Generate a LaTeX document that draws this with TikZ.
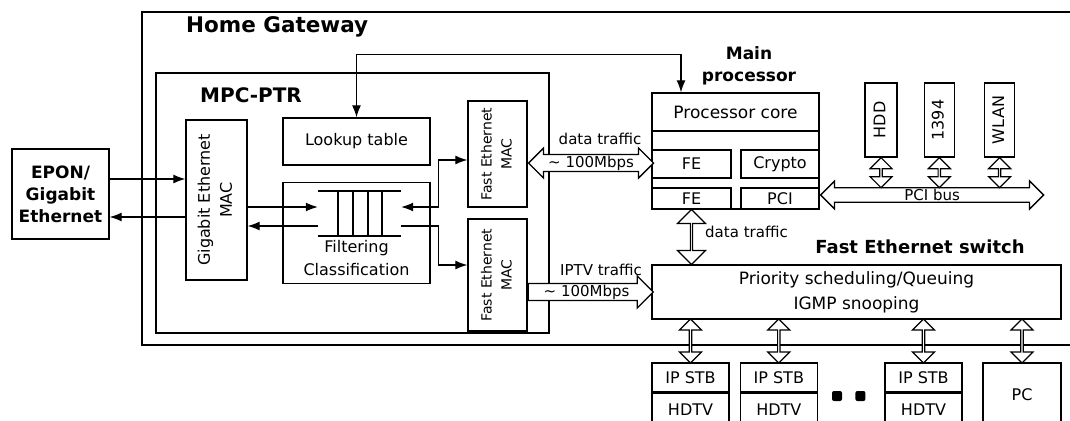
\documentclass[tikz,border=0pt]{standalone}
\usepackage{fontspec}
\setmainfont{DejaVu Sans}
\usetikzlibrary{positioning,shapes.arrows,arrows.meta,calc}
\newcommand{\vlabel}[1]{\rotatebox{90}{\begin{tabular}{@{}c@{}}#1\end{tabular}}}

\begin{document}
\begin{tikzpicture}
	[x=1pt,y=-1pt,
	box/.style={rectangle,draw,line width=1.3pt,inner sep=0pt,align=center,font=\fontsize{16}{22}\selectfont},
	frame/.style={draw,line width=1.5pt},
	title/.style={inner sep=0pt,font=\bfseries\fontsize{20}{24}\selectfont},
	head/.style={inner sep=0pt,align=center,font=\bfseries\fontsize{17}{22}\selectfont},
	note/.style={inner sep=0pt,align=center,font=\fontsize{15}{23}\selectfont},
	fat/.style={double arrow,draw,fill=white,line width=1.3pt,inner sep=0pt,double arrow head extend=6pt,minimum width=30pt,font=\fontsize{15}{18}\selectfont},
	slim/.style={double arrow,draw,fill=white,line width=1.2pt,inner sep=0pt,double arrow head extend=5pt,minimum width=22pt,rotate=90},
	link/.style={line width=1.2pt,-{Latex[length=12pt,width=9pt]}},
	links/.style={line width=1.2pt,{Latex[length=12pt,width=9pt]}-{Latex[length=12pt,width=9pt]}},
	qline/.style={line width=1.5pt},
	dot/.style={rectangle,fill,rounded corners=2pt,minimum size=10pt,inner sep=0pt}]
	\useasboundingbox (0,0) rectangle (1070,420);
	\draw[frame] (1072,12) -| (142,345) -- (1072,345);
	\node[title,anchor=west,font=\bfseries\fontsize{21.5}{24}\selectfont] (hgtitle) at (186,27) {Home Gateway};
	\node[frame,minimum width=393pt,minimum height=260pt] (mpc) at (352.5,203) {};
	\node[title,anchor=west] (mpctitle) at (200,95) {MPC-PTR};
	\node[box,minimum width=97pt,minimum height=90pt,font=\bfseries\fontsize{17}{22}\selectfont] (epon) at (60.5,194) {EPON/\\Gigabit\\Ethernet};
	\node[box,minimum width=61pt,minimum height=160pt] (gmac) at (216.5,200) {\vlabel{Gigabit Ethernet\\MAC}};
	\node[box,minimum width=147pt,minimum height=47pt] (lookup) at (356.5,141.5) {Lookup table};
	\node[box,minimum width=147pt,minimum height=101pt] (filt) [below=16pt of lookup] {};
	\node[note,font=\fontsize{16}{23}\selectfont] (filttxt) at (356.5,258) {Filtering\\Classification};
	\node[minimum width=83pt,minimum height=45pt,inner sep=0pt] (queue) at (359.5,213.5) {};
	\node[box,minimum width=59pt,minimum height=106pt,font=\fontsize{14}{20}\selectfont] (femac1) at (497.5,154) {\vlabel{Fast Ethernet\\MAC}};
	\node[box,minimum width=59pt,minimum height=112pt,font=\fontsize{14}{20}\selectfont] (femac2) at (497.5,275) {\vlabel{Fast Ethernet\\MAC}};
	\node[box,minimum width=167pt,minimum height=116pt] (proc) at (735.5,151) {};
	\node[box,minimum width=167pt,minimum height=38pt,font=\fontsize{17}{22}\selectfont] (core) at (735.5,112) {Processor core};
	\node[box,minimum width=79pt,minimum height=28pt] (fe1) at (691.5,164) {FE};
	\node[box,minimum width=78pt,minimum height=28pt] (crypto) at (780,164) {Crypto};
	\node[box,minimum width=79pt,minimum height=21pt] (fe2) at (691.5,198.5) {FE};
	\node[box,minimum width=78pt,minimum height=21pt] (pci) at (780,198.5) {PCI};
	\node[head] (mainlbl) at (749,66) {Main\\processor};
	\node[box,minimum width=32pt,minimum height=74pt] (hdd) at (881,120) {\vlabel{HDD}};
	\node[box,minimum width=30pt,minimum height=74pt] (fw) [right=26pt of hdd] {\vlabel{1394}};
	\node[box,minimum width=30pt,minimum height=74pt] (wlan) [right=29pt of fw] {\vlabel{WLAN}};
	\node[box,minimum width=409pt,minimum height=54pt,font=\fontsize{17}{25}\selectfont] (switch) at (856.5,292) {Priority scheduling/Queuing\\IGMP snooping};
	\node[head,font=\bfseries\fontsize{18}{22}\selectfont] (swlbl) at (920,247) {Fast Ethernet switch};
	\node[box,minimum width=77pt,minimum height=29pt] (stb1) at (690.5,377.5) {IP STB};
	\node[box,minimum width=77pt,minimum height=33pt] (tv1) [below=0pt of stb1] {HDTV};
	\node[box,minimum width=77pt,minimum height=29pt] (stb2) [right=10pt of stb1] {IP STB};
	\node[box,minimum width=77pt,minimum height=33pt] (tv2) [below=0pt of stb2] {HDTV};
	\node[dot] (dot1) at (837,396) {};
	\node[dot] (dot2) [right=13pt of dot1] {};
	\node[box,minimum width=77pt,minimum height=29pt] (stb3) at (923.5,377.5) {IP STB};
	\node[box,minimum width=77pt,minimum height=33pt] (tv3) [below=0pt of stb3] {HDTV};
	\node[box,minimum width=78pt,minimum height=63pt] (pc) at (1022,394.5) {PC};
	\draw[links] ([xshift=-54.5pt]proc.north) -- ++(0,-38) -| (lookup.north);
	\draw[link] (epon.east |- 0,179) -- (gmac.west |- 0,179);
	\draw[link] (gmac.west |- 0,217) -- (epon.east |- 0,217);
	\draw[qline] (queue.north west) -- (queue.north east);
	\draw[qline] (queue.south west) -- (queue.south east);
	\foreach \x in {338,353,368,382}
		\draw[qline] (queue.north -| \x,0) -- (queue.south -| \x,0);
	\draw[link] (gmac.east |- 0,207) -- (queue.west |- 0,207);
	\draw[link] (queue.west |- 0,226) -- (gmac.east |- 0,226);
	\draw[links] (queue.east |- 0,207) -- ++(37,0) |- (femac1.west |- 0,160);
	\draw[link] (queue.east |- 0,226) -- ++(37,0) |- (femac2.west |- 0,265);
	\node[fat,anchor=west,minimum height=125pt] (dtarrow) at (femac1.east |- 0,163) {\textasciitilde{} 100Mbps};
	\node[single arrow,draw,fill=white,line width=1.3pt,inner sep=0pt,single arrow head extend=7pt,minimum width=32pt,minimum height=125pt,anchor=west,font=\fontsize{15}{18}\selectfont] (iptv) at (femac2.east |- 0,292) {\textasciitilde{} 100Mbps};
	\node[fat,anchor=west,minimum width=28pt,minimum height=223pt] (pcibus) at (pci.east |- 0,195) {PCI bus};
	\node[slim,minimum width=28pt,double arrow head extend=7pt,minimum height=55pt] (dtvert) at ($(fe2.south)!0.5!(fe2.south |- switch.north)$) {};
	\node[slim,minimum height=30pt] (hddlink) at ([yshift=-15pt]hdd.south) {};
	\node[slim,minimum height=30pt] (fwlink) at ([yshift=-15pt]fw.south) {};
	\node[slim,minimum height=30pt] (wlanlink) at ([yshift=-15pt]wlan.south) {};
	\node[slim,minimum height=44pt] (stb1link) at ($(stb1.north)!0.5!(stb1.north |- switch.south)$) {};
	\node[slim,minimum height=44pt] (stb2link) at ($(stb2.north)!0.5!(stb2.north |- switch.south)$) {};
	\node[slim,minimum height=44pt] (stb3link) at ($(stb3.north)!0.5!(stb3.north |- switch.south)$) {};
	\node[slim,minimum height=44pt] (pclink) at ($(pc.north)!0.5!(pc.north |- switch.south)$) {};
	\node[note] (dtlbl) at (600,139) {data traffic};
	\node[note] (iptvlbl) at (601,270) {IPTV traffic};
	\node[note,anchor=west] (dtvlbl) at (705,232) {data traffic};
\end{tikzpicture}
\end{document}
